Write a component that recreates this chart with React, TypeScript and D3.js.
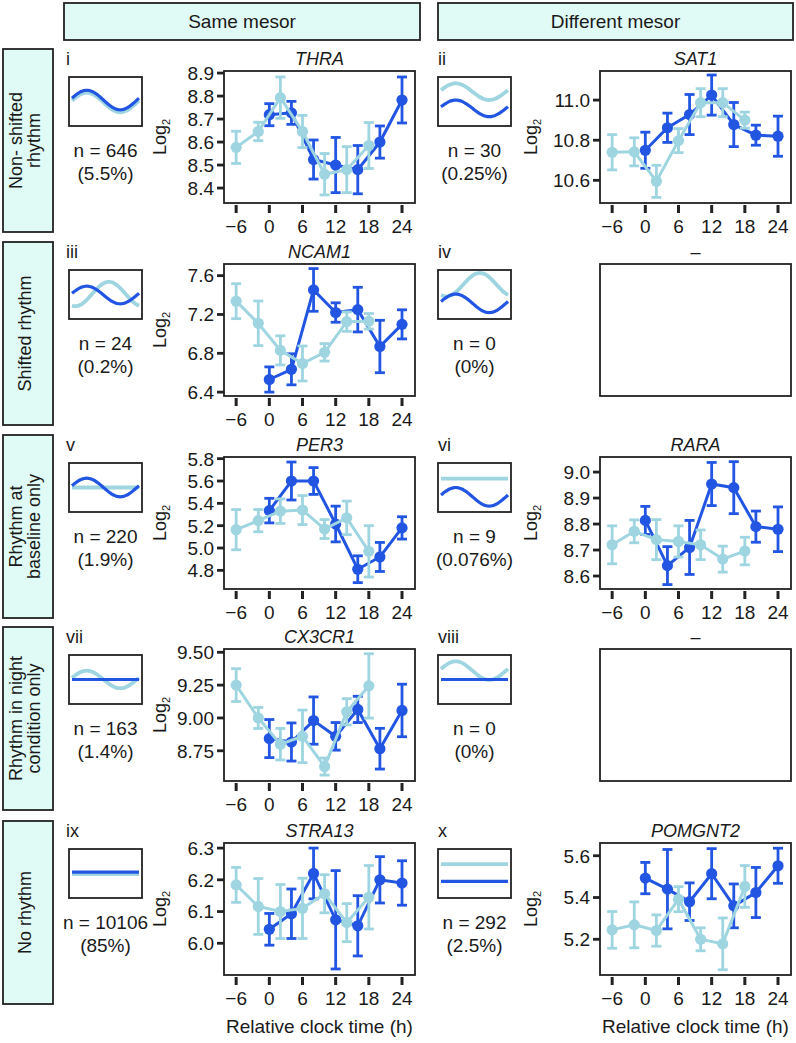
import React from 'react';
import * as d3 from 'd3';

// sampling times (h)
const lightTimes = [-6, -2, 2, 6, 10, 14, 18];
const darkTimes = [0, 4, 8, 12, 16, 20, 24];
const xTicks = [-6, 0, 6, 12, 18, 24];

const thraLight = [8.577, 8.646, 8.793, 8.646, 8.46, 8.48, 8.585];
const thraLightErr = [0.07, 0.04, 0.09, 0.07, 0.09, 0.1, 0.1];
const thraDark = [8.719, 8.727, 8.524, 8.5, 8.48, 8.6, 8.783];
const thraDarkErr = [0.048, 0.05, 0.085, 0.12, 0.105, 0.07, 0.1];

const sat1Light = [10.74, 10.742, 10.595, 10.798, 10.987, 10.987, 10.9];
const sat1LightErr = [0.088, 0.07, 0.08, 0.06, 0.07, 0.07, 0.04];
const sat1Dark = [10.75, 10.862, 10.928, 11.025, 10.878, 10.825, 10.82];
const sat1DarkErr = [0.09, 0.073, 0.1, 0.1, 0.11, 0.05, 0.1];

const ncam1Light = [7.337, 7.109, 6.83, 6.695, 6.81, 7.126, 7.13];
const ncam1LightErr = [0.18, 0.23, 0.15, 0.18, 0.09, 0.1, 0.08];
const ncam1Dark = [6.53, 6.635, 7.453, 7.22, 7.25, 6.87, 7.098];
const ncam1DarkErr = [0.13, 0.16, 0.22, 0.1, 0.23, 0.27, 0.15];

const per3Light = [5.164, 5.245, 5.33, 5.34, 5.17, 5.27, 4.97];
const per3LightErr = [0.18, 0.1, 0.11, 0.13, 0.085, 0.15, 0.23];
const per3Dark = [5.335, 5.6, 5.6, 5.215, 4.81, 4.92, 5.18];
const per3DarkErr = [0.11, 0.17, 0.12, 0.16, 0.12, 0.13, 0.1];

const raraLight = [8.72, 8.772, 8.74, 8.733, 8.72, 8.665, 8.696];
const raraLightErr = [0.073, 0.044, 0.077, 0.06, 0.057, 0.05, 0.053];
const raraDark = [8.814, 8.64, 8.71, 8.954, 8.94, 8.79, 8.78];
const raraDarkErr = [0.054, 0.073, 0.104, 0.083, 0.1, 0.06, 0.086];

const cx3cr1Light = [9.25, 9.0, 8.8, 8.86, 8.63, 9.047, 9.244];
const cx3cr1LightErr = [0.125, 0.08, 0.12, 0.2, 0.065, 0.1, 0.245];
const cx3cr1Dark = [8.843, 8.817, 8.98, 8.86, 9.065, 8.766, 9.057];
const cx3cr1DarkErr = [0.145, 0.145, 0.18, 0.105, 0.1, 0.155, 0.2];

const stra13Light = [6.184, 6.116, 6.1, 6.11, 6.156, 6.065, 6.145];
const stra13LightErr = [0.055, 0.088, 0.085, 0.095, 0.06, 0.06, 0.1];
const stra13Dark = [6.044, 6.093, 6.22, 6.074, 6.055, 6.2, 6.19];
const stra13DarkErr = [0.05, 0.078, 0.08, 0.155, 0.095, 0.073, 0.07];

const pomgnt2Light = [5.245, 5.269, 5.242, 5.392, 5.2, 5.178, 5.453];
const pomgnt2LightErr = [0.088, 0.11, 0.075, 0.06, 0.055, 0.124, 0.1];
const pomgnt2Dark = [5.493, 5.44, 5.38, 5.514, 5.36, 5.424, 5.552];
const pomgnt2DarkErr = [0.075, 0.19, 0.09, 0.12, 0.105, 0.12, 0.084];

const columnTitles = ['Same mesor', 'Different mesor'];
const rowTitles = [
  ['Non- shifted', 'rhythm'],
  ['Shifted rhythm'],
  ['Rhythm at', 'baseline only'],
  ['Rhythm in night', 'condition only'],
  ['No rhythm'],
];

type Wave = { mid: number; amp: number; ph: number };
type Panel = {
  roman: string; gene: string; row: number; col: number;
  n: string; pct: string;
  light?: number[]; lightErr?: number[]; dark?: number[]; darkErr?: number[];
  yDomain?: [number, number]; yTicks?: number[]; yFmt?: string;
  cLight: Wave; cDark: Wave;
};

const panels: Panel[] = [
  { roman: 'i', gene: 'THRA', row: 0, col: 0, n: 'n = 646', pct: '(5.5%)',
    light: thraLight, lightErr: thraLightErr, dark: thraDark, darkErr: thraDarkErr,
    yDomain: [8.335, 8.909], yTicks: [8.4, 8.5, 8.6, 8.7, 8.8, 8.9], yFmt: '.1f',
    cLight: { mid: 0.52, amp: 0.2, ph: 0.03 }, cDark: { mid: 0.47, amp: 0.2, ph: 0.03 } },
  { roman: 'ii', gene: 'SAT1', row: 0, col: 1, n: 'n = 30', pct: '(0.25%)',
    light: sat1Light, lightErr: sat1LightErr, dark: sat1Dark, darkErr: sat1DarkErr,
    yDomain: [10.487, 11.145], yTicks: [10.6, 10.8, 11.0], yFmt: '.1f',
    cLight: { mid: 0.3, amp: 0.17, ph: 0.03 }, cDark: { mid: 0.64, amp: 0.17, ph: 0.03 } },
  { roman: 'iii', gene: 'NCAM1', row: 1, col: 0, n: 'n = 24', pct: '(0.2%)',
    light: ncam1Light, lightErr: ncam1LightErr, dark: ncam1Dark, darkErr: ncam1DarkErr,
    yDomain: [6.36, 7.72], yTicks: [6.4, 6.8, 7.2, 7.6], yFmt: '.1f',
    cLight: { mid: 0.49, amp: 0.25, ph: -0.3 }, cDark: { mid: 0.51, amp: 0.18, ph: 0.03 } },
  { roman: 'iv', gene: '–', row: 1, col: 1, n: 'n = 0', pct: '(0%)',
    cLight: { mid: 0.3, amp: 0.24, ph: -0.33 }, cDark: { mid: 0.68, amp: 0.19, ph: 0.03 } },
  { roman: 'v', gene: 'PER3', row: 2, col: 0, n: 'n = 220', pct: '(1.9%)',
    light: per3Light, lightErr: per3LightErr, dark: per3Dark, darkErr: per3DarkErr,
    yDomain: [4.633, 5.815], yTicks: [4.8, 5.0, 5.2, 5.4, 5.6, 5.8], yFmt: '.1f',
    cLight: { mid: 0.5, amp: 0, ph: 0 }, cDark: { mid: 0.5, amp: 0.19, ph: 0.03 } },
  { roman: 'vi', gene: 'RARA', row: 2, col: 1, n: 'n = 9', pct: '(0.076%)',
    light: raraLight, lightErr: raraLightErr, dark: raraDark, darkErr: raraDarkErr,
    yDomain: [8.55, 9.058], yTicks: [8.6, 8.7, 8.8, 8.9, 9.0], yFmt: '.1f',
    cLight: { mid: 0.32, amp: 0, ph: 0 }, cDark: { mid: 0.69, amp: 0.19, ph: 0.03 } },
  { roman: 'vii', gene: 'CX3CR1', row: 3, col: 0, n: 'n = 163', pct: '(1.4%)',
    light: cx3cr1Light, lightErr: cx3cr1LightErr, dark: cx3cr1Dark, darkErr: cx3cr1DarkErr,
    yDomain: [8.52, 9.525], yTicks: [8.75, 9.0, 9.25, 9.5], yFmt: '.2f',
    cLight: { mid: 0.5, amp: 0.18, ph: 0.03 }, cDark: { mid: 0.5, amp: 0, ph: 0 } },
  { roman: 'viii', gene: '–', row: 3, col: 1, n: 'n = 0', pct: '(0%)',
    cLight: { mid: 0.32, amp: 0.19, ph: 0.03 }, cDark: { mid: 0.5, amp: 0, ph: 0 } },
  { roman: 'ix', gene: 'STRA13', row: 4, col: 0, n: 'n = 10106', pct: '(85%)',
    light: stra13Light, lightErr: stra13LightErr, dark: stra13Dark, darkErr: stra13DarkErr,
    yDomain: [5.9, 6.316], yTicks: [6.0, 6.1, 6.2, 6.3], yFmt: '.1f',
    cLight: { mid: 0.51, amp: 0, ph: 0 }, cDark: { mid: 0.47, amp: 0, ph: 0 } },
  { roman: 'x', gene: 'POMGNT2', row: 4, col: 1, n: 'n = 292', pct: '(2.5%)',
    light: pomgnt2Light, lightErr: pomgnt2LightErr, dark: pomgnt2Dark, darkErr: pomgnt2DarkErr,
    yDomain: [5.029, 5.661], yTicks: [5.2, 5.4, 5.6], yFmt: '.1f',
    cLight: { mid: 0.31, amp: 0, ph: 0 }, cDark: { mid: 0.66, amp: 0, ph: 0 } },
];

// layout
const W = 796, H = 1043;
const rowTops = [50, 243, 436, 628, 822];
const frameX = [224, 600];
const frameW = 191, frameH = 132;
const cartoonX = [69, 438];
const romanX = [66, 438];
const DARK = '#2256e2';
const LIGHT = '#9ed5e0';
const INK = '#222222';
const MINT = '#e0faf5';
const FONT = '"Liberation Sans", Arial, Helvetica, sans-serif';

const Cartoon = ({ p }: { p: Panel }) => {
  const bx = cartoonX[p.col], by = rowTops[p.row] + 27, bw = 73, bh = 49;
  const t = d3.scaleLinear().domain([0, 1]).range([bx + 3, bx + bw - 3]);
  const wave = (w: Wave) =>
    d3.line<number>()
      .x((s) => t(s))
      .y((s) => by + bh * (w.mid - w.amp * Math.sin(2 * Math.PI * (s + w.ph))))
      .curve(d3.curveBasis)(d3.range(0, 1.0001, 0.02));
  return (
    <g>
      <rect x={bx} y={by} width={bw} height={bh} fill="white" stroke={INK} strokeWidth={1.8} />
      <path d={wave(p.cLight) || ''} fill="none" stroke={LIGHT} strokeWidth={3.8} />
      <path d={wave(p.cDark) || ''} fill="none" stroke={DARK} strokeWidth={3.2} />
      <text x={bx + bw / 2} y={rowTops[p.row] + 107} textAnchor="middle" fontSize={19}>{p.n}</text>
      <text x={bx + bw / 2} y={rowTops[p.row] + 130} textAnchor="middle" fontSize={19}>{p.pct}</text>
    </g>
  );
};

const Series = ({ times, vals, errs, color, x, y }: any) => {
  const line = d3.line<number>().x((_, i) => x(times[i])).y((v) => y(v));
  return (
    <g>
      <path d={line(vals) || ''} fill="none" stroke={color} strokeWidth={3} />
      {vals.map((v: number, i: number) => {
        const cx = x(times[i]);
        const y0 = y(v - errs[i]);
        const y1 = y(v + errs[i]);
        return (
          <g key={i} stroke={color} strokeWidth={2.8}>
            <line x1={cx} x2={cx} y1={y0} y2={y1} />
            <line x1={cx - 5} x2={cx + 5} y1={y0} y2={y0} />
            <line x1={cx - 5} x2={cx + 5} y1={y1} y2={y1} />
            <circle cx={cx} cy={y(v)} r={5.6} fill={color} stroke="none" />
          </g>
        );
      })}
    </g>
  );
};

const Chart = ({ p }: { p: Panel }) => {
  const fx = frameX[p.col];
  const fy = rowTops[p.row] + 21;
  const x = d3.scaleLinear().domain([-8.2, 26.35]).range([fx, fx + frameW]);
  const hasData = !!p.light;
  const y = d3.scaleLinear().domain(p.yDomain || [0, 1]).range([fy + frameH, fy]);
  const fmt = d3.format(p.yFmt || '.1f');
  return (
    <g>
      <text x={fx + frameW / 2} y={fy - 6} textAnchor="middle" fontSize={18}
        fontStyle={hasData ? 'italic' : 'normal'}>{p.gene}</text>
      <text x={romanX[p.col]} y={fy - 6} fontSize={18}>{p.roman}</text>
      {hasData && (
        <g>
          {xTicks.map((tk) => (
            <g key={tk}>
              <line x1={x(tk)} x2={x(tk)} y1={fy + frameH + 2} y2={fy + frameH + 10}
                stroke={INK} strokeWidth={3} />
              <text x={x(tk)} y={fy + frameH + 30} textAnchor="middle" fontSize={19}>
                {tk < 0 ? '\u2212' + Math.abs(tk) : tk}
              </text>
            </g>
          ))}
          {p.yTicks!.map((tk) => (
            <g key={tk}>
              <line x1={fx - 7} x2={fx} y1={y(tk)} y2={y(tk)} stroke={INK} strokeWidth={2.8} />
              <text x={fx - 10} y={y(tk)} dy="0.36em" textAnchor="end" fontSize={19}>{fmt(tk)}</text>
            </g>
          ))}
          <text transform={`translate(${fx - (p.col === 0 ? 58 : 63)},${fy + frameH / 2}) rotate(-90)`}
            textAnchor="middle" fontSize={18}>
            Log<tspan fontSize={11} dy={4}>2</tspan>
          </text>
          <Series times={darkTimes} vals={p.dark} errs={p.darkErr} color={DARK} x={x} y={y} />
          <Series times={lightTimes} vals={p.light} errs={p.lightErr} color={LIGHT} x={x} y={y} />
        </g>
      )}
      <rect x={fx} y={fy} width={frameW} height={frameH} fill="none" stroke={INK} strokeWidth={1.8} />
    </g>
  );
};

const App: React.FC = () => {
  return (
    <svg width={W} height={H} style={{ position: 'absolute', left: 0, top: 0 }}
      fontFamily={FONT} fill="#1a1a1a">
      <rect width={W} height={H} fill="white" />
      {columnTitles.map((t, i) => {
        const x0 = i === 0 ? 64 : 438;
        const x1 = i === 0 ? 420 : 793;
        return (
          <g key={t}>
            <rect x={x0} y={3} width={x1 - x0} height={37} fill={MINT} stroke={INK} strokeWidth={1.8} />
            <text x={(x0 + x1) / 2} y={28} textAnchor="middle" fontSize={19}>{t}</text>
          </g>
        );
      })}
      {rowTitles.map((lines, r) => {
        const top = rowTops[r] - 1;
        const h = 183;
        return (
          <g key={r}>
            <rect x={3} y={top} width={50} height={h} fill={MINT} stroke={INK} strokeWidth={1.8} />
            <text transform={`translate(28,${top + h / 2}) rotate(-90)`} textAnchor="middle" fontSize={18}>
              {lines.map((l, i) => (
                <tspan key={i} x={0} y={3 + (i - (lines.length - 1) / 2) * 18.5}>{l}</tspan>
              ))}
            </text>
          </g>
        );
      })}
      {panels.map((p) => (
        <g key={p.roman}>
          <Cartoon p={p} />
          <Chart p={p} />
        </g>
      ))}
      {frameX.map((fx) => (
        <text key={fx} x={fx + frameW / 2} y={1033} textAnchor="middle" fontSize={19}>
          Relative clock time (h)
        </text>
      ))}
    </svg>
  );
};

export default App;
